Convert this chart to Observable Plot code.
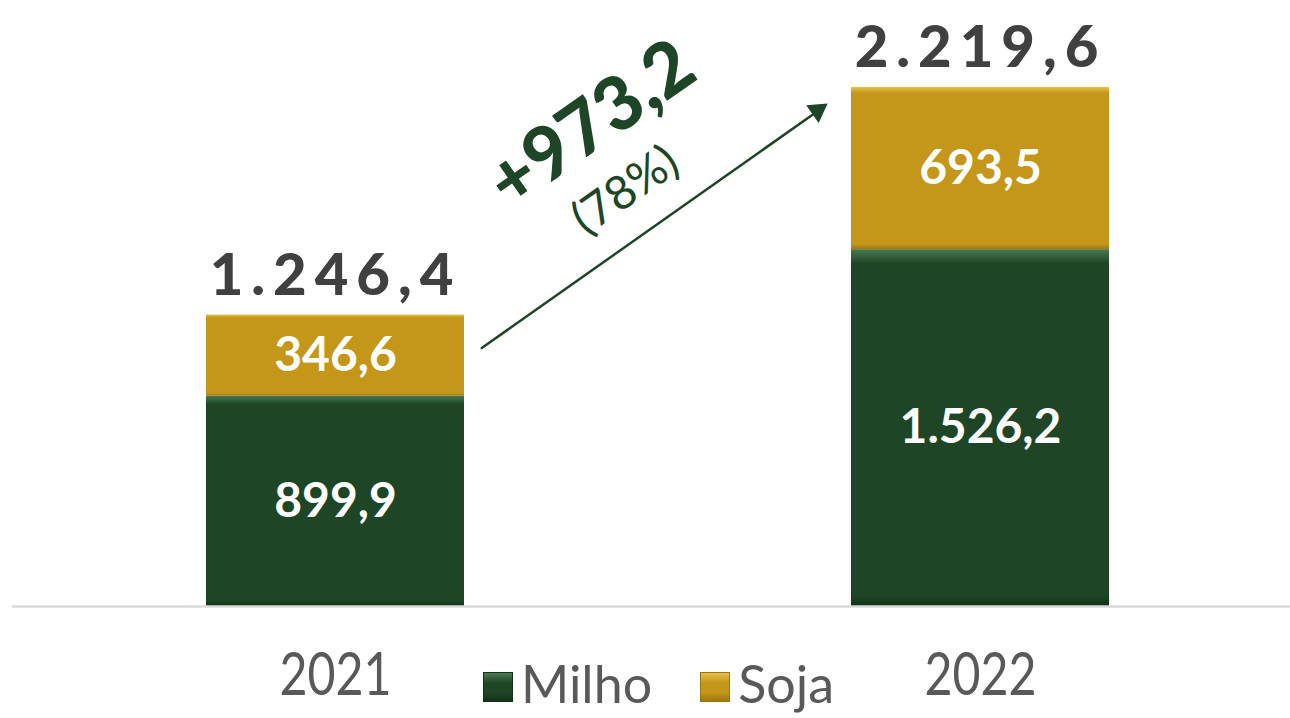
<!DOCTYPE html>
<html>
<head>
<meta charset="utf-8">
<script src="https://cdn.jsdelivr.net/npm/d3@7"></script>
<script src="https://cdn.jsdelivr.net/npm/@observablehq/plot@0.6"></script>
<style>
  body { margin: 0; background: #ffffff; }
  #wrap { position: relative; width: 1290px; height: 718px; overflow: hidden; font-family: Lato, "Noto Sans", sans-serif; }
  #legend { position: absolute; left: 483px; top: 652px; display: flex; align-items: center; color: #595959; font-size: 52px; font-weight: 400; line-height: 1.2; }
  #legend .item { display: flex; align-items: center; margin-right: 48px; }
  #legend .sw { width: 30px; height: 30px; margin-right: 8px; margin-top: 8px; box-sizing: border-box; }
</style>
</head>
<body>
<div id="wrap"><div id="legend"></div></div>
<script>
// ---- data ----
const years = ["2021", "2022"];
const series = ["Milho", "Soja"];
const milho = [899.9, 1526.2];
const soja = [346.6, 693.5];
const totalValues = [1246.4, 2219.6];
const seriesColors = ["#1E4626", "#C4961A"];

// ---- helpers ----
function fmtBR(v) {
  const [i, d] = v.toFixed(1).split(".");
  return i.replace(/\B(?=(\d{3})+(?!\d))/g, ".") + "," + d;
}

const rows = [];
years.forEach((yr, i) => {
  rows.push({year: yr, series: series[0], value: milho[i]});
  rows.push({year: yr, series: series[1], value: soja[i]});
});
const totals = years.map((yr, i) => ({year: yr, total: totalValues[i]}));
const delta = totalValues[1] - totalValues[0];
const pct = Math.round(delta / totalValues[0] * 100);
const gradIds = ["gMilho", "gSoja"];

const chart = Plot.plot({
  width: 1290,
  height: 718,
  marginTop: 87,
  marginBottom: 112,
  marginLeft: 24,
  marginRight: 0,
  style: {fontFamily: "Lato, 'Noto Sans', sans-serif", background: "transparent"},
  x: {domain: years, paddingInner: 0.6, paddingOuter: 0.28, label: null},
  y: {domain: [0, totalValues[1]], axis: null},
  color: {domain: series, range: gradIds.map(id => `url(#${id})`)},
  marks: [
    Plot.barY(rows, {x: "year", y: "value", fill: "series"}),
    Plot.ruleY([0], {stroke: "#d9d9d9", strokeWidth: 2.5, insetLeft: -12}),
    Plot.text(rows, Plot.stackY({x: "year", y: "value", text: d => fmtBR(d.value), fill: "#ffffff", fontSize: 48, fontWeight: 700})),
    Plot.text(totals, {x: "year", y: "total", text: d => fmtBR(d.total), dy: -39, fill: "#404040", fontSize: 58, fontWeight: 900}),
    Plot.arrow([0], {x1: () => years[0], x2: () => years[1], y1: 664, y2: 2610, insetStart: 179, insetEnd: 196, stroke: "#1E4626", strokeWidth: 2.5, headLength: 0}),
    Plot.dot([0], {x: () => years[1], y: 2121, dx: -163, symbol: "triangle", r: 8, rotate: 55, fill: "#1E4626", stroke: "none"}),
    Plot.text([0], {x: () => years[0], y: 2060, dx: 256, text: () => "+" + fmtBR(delta), rotate: -35, fill: "#1E4626", fontSize: 74, fontWeight: 900}),
    Plot.text([0], {x: () => years[0], y: 1779, dx: 290, text: () => `(${pct}%)`, rotate: -35, fill: "#1E4626", fontSize: 47, fontWeight: 400}),
    Plot.axisX({tickSize: 0, tickPadding: 46, fontSize: 60, fill: "#595959", fontWeight: 400, label: null})
  ]
});

// gradients (bevel-like shading)
const svg = d3.select(chart);
const defs = svg.insert("defs", ":first-child");
const gradSpecs = [
  {id: "gMilho", light: "#4a7a52", base: "#1E4626", dark: "#14321a"},
  {id: "gSoja", light: "#e6c04a", base: "#C4961A", dark: "#9c7610"}
];
gradSpecs.forEach(g => {
  const lg = defs.append("linearGradient").attr("id", g.id).attr("x1", 0).attr("x2", 0).attr("y1", 0).attr("y2", 1);
  lg.append("stop").attr("offset", "0%").attr("stop-color", g.light);
  lg.append("stop").attr("offset", "4%").attr("stop-color", g.base);
  lg.append("stop").attr("offset", "97%").attr("stop-color", g.base);
  lg.append("stop").attr("offset", "100%").attr("stop-color", g.dark);
});

// letter spacing on totals
svg.selectAll("text").filter(function() { return totals.some(t => fmtBR(t.total) === this.textContent); })
  .style("letter-spacing", "8px");

// condensed year labels
svg.selectAll("text").filter(function() { return years.includes(this.textContent); })
  .attr("textLength", 112).attr("lengthAdjust", "spacingAndGlyphs");

document.getElementById("wrap").prepend(chart);
chart.style.position = "absolute";
chart.style.left = "0";
chart.style.top = "0";

// legend
const legend = d3.select("#legend");
series.forEach((s, i) => {
  const it = legend.append("div").attr("class", "item");
  it.append("div").attr("class", "sw")
    .style("background", `linear-gradient(180deg, ${gradSpecs[i].light} 0%, ${seriesColors[i]} 35%, ${seriesColors[i]} 70%, ${gradSpecs[i].dark} 100%)`)
    .style("border", `1px solid ${gradSpecs[i].dark}`);
  it.append("span").text(s);
});
</script>
</body>
</html>
